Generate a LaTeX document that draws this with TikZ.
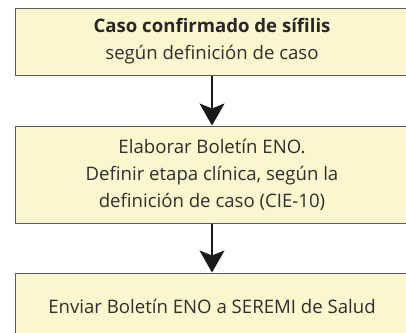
\documentclass[tikz,border=0pt]{standalone}
\usepackage{fontspec}
\setmainfont{Open Sans}
\usetikzlibrary{arrows.meta}
\definecolor{boxfill}{HTML}{FAF7CF}
\definecolor{boxline}{HTML}{5A5A5A}
\definecolor{txt}{HTML}{2E2E2E}
\tikzset{
  flowbox/.style={draw=boxline, line width=1pt, fill=boxfill, minimum width=394pt,
    inner sep=0pt, align=center, text=txt, font=\fontsize{18.6}{27}\selectfont},
  flowarrow/.style={line width=2pt, draw=black!90, -{Stealth[length=22pt,width=25pt,inset=5pt]}}
}
\begin{document}
\begin{tikzpicture}[x=1pt,y=1pt]
\useasboundingbox (0,0) rectangle (406,-332);
\clip (0,0) rectangle (406,-332);
\node[flowbox, minimum height=67pt] (b1) at (212,-41.5)
  {\textbf{\color{black!85}Caso confirmado de sífilis}\\según definición de caso};
\node[flowbox, minimum height=97pt] (b2) at (212,-174.5)
  {Elaborar Boletín ENO.\\Definir etapa clínica, según la\\definición de caso (CIE-10)};
\node[flowbox, minimum height=66pt] (b3) at (212,-306)
  {Enviar Boletín ENO a SEREMI de Salud};
\draw[flowarrow] (b1.south) -- (b2.north);
\draw[flowarrow] (b2.south) -- (b3.north);
\end{tikzpicture}
\end{document}
